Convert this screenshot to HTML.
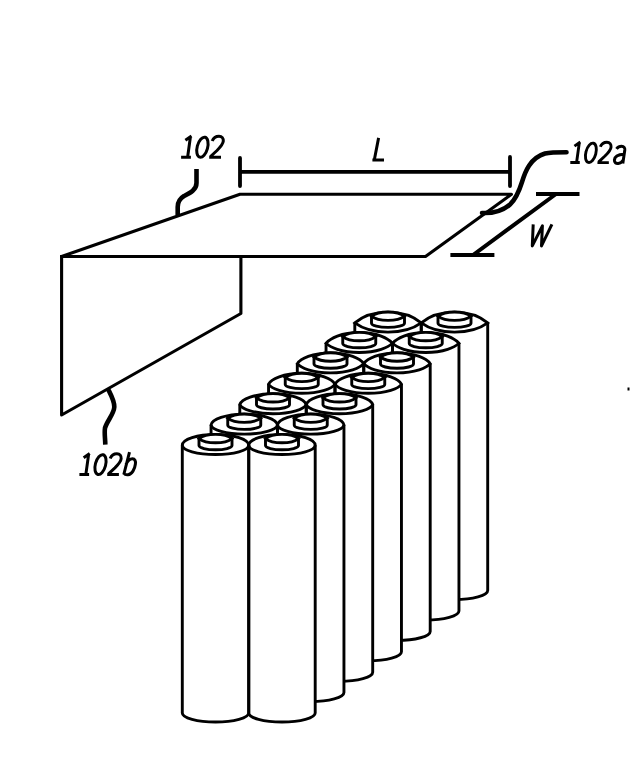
<!DOCTYPE html>
<html><head><meta charset="utf-8"><style>
html,body{margin:0;padding:0;background:#fff;width:632px;height:780px;overflow:hidden}
svg{display:block}
</style></head><body>
<svg width="632" height="780" viewBox="0 0 632 780">
<style>
.s{fill:none;stroke:#000;stroke-width:3.1;stroke-linejoin:round;stroke-linecap:square}
.c{fill:#fff;stroke:#000;stroke-width:2.9}
.f{fill:#fff;stroke:none}
.k{fill:none;stroke:#000;stroke-width:2.9}
.d{fill:none;stroke:#000;stroke-width:3.8;stroke-linecap:round}
.ld{fill:none;stroke:#000;stroke-width:4.6;stroke-linecap:butt}
.t{fill:none;stroke:#000;stroke-width:3;stroke-linecap:butt;stroke-linejoin:round}
</style>
<rect width="632" height="780" fill="#fff"/>
<!-- sheet 102 -->
<path class="s" d="M61.6,256.5 L240,194.3 L511.5,194.3 L425.5,256.5 Z"/>
<path class="s" d="M61.6,256.5 L61.6,415 L240.9,313.5 L240.9,256.5"/>
<!-- L dimension -->
<path class="d" d="M240,158 L240,186 M240,171.8 L510,171.8 M510,157 L510,186"/>
<!-- W dimension -->
<path class="d" style="stroke-linecap:butt;stroke-width:4" d="M536,194 L579.5,194 M556,194 L473,255 M450.4,255 L494.4,255"/>
<!-- leaders -->
<path class="ld" d="M196.5,169 L196.5,183 C196.5,190 190,193 184,196 C179,199 177.7,203 177.7,207 L177.7,215"/>
<path class="ld" style="stroke-linecap:round" d="M482,213 C492,213.5 503,210.5 510,204.5 C516.5,198.5 519.5,190 522,182 C525,172 530,158 545,153.5 C550,152.4 556,152.3 566.5,152.3"/>
<path class="ld" d="M108,389 C111,395 114.5,401 114.3,407 C114,414 107,421 105,428 C104.2,433 105.2,438 105.3,444.6"/>
<!-- labels -->
<g><path class="t" d="M185.4,140.2 L191.5,136 M190.5,136.3 L187.6,157.2 M181.1,157.2 L190.9,157.2 M212.2,141 C213.5,137.5 216.5,136.2 219,136.2 C222,136.2 223.5,138.5 223.3,141.2 C223,144.5 220.5,147 217,150.5 L210.5,156.5 M209.2,157.3 L221,157.3"/><ellipse class="t" cx="202.4" cy="147.2" rx="5.2" ry="10.3" transform="rotate(15 202.4 147.2)"/></g>
<g transform="translate(570.3,162.5) scale(0.966) translate(-181.1,-157.2)"><path class="t" d="M185.4,140.2 L191.5,136 M190.5,136.3 L187.6,157.2 M181.1,157.2 L190.9,157.2 M212.2,141 C213.5,137.5 216.5,136.2 219,136.2 C222,136.2 223.5,138.5 223.3,141.2 C223,144.5 220.5,147 217,150.5 L210.5,156.5 M209.2,157.3 L221,157.3"/><ellipse class="t" cx="202.4" cy="147.2" rx="5.2" ry="10.3" transform="rotate(15 202.4 147.2)"/></g>
<path class="t" d="M616.5,148.8 C618,146.8 620,146.3 621.6,146.3 C624,146.3 625,147.8 624.8,150 L622.8,163.5 M624,154.3 C619,154.5 614.8,156 614.4,160 C614.2,162.5 616,163.6 618.2,163.4 C620.5,163.2 622.3,161.5 623.2,160"/>
<g transform="translate(79.4,474.5) scale(0.99) translate(-181.1,-157.2)"><path class="t" d="M185.4,140.2 L191.5,136 M190.5,136.3 L187.6,157.2 M181.1,157.2 L190.9,157.2 M212.2,141 C213.5,137.5 216.5,136.2 219,136.2 C222,136.2 223.5,138.5 223.3,141.2 C223,144.5 220.5,147 217,150.5 L210.5,156.5 M209.2,157.3 L221,157.3"/><ellipse class="t" cx="202.4" cy="147.2" rx="5.2" ry="10.3" transform="rotate(15 202.4 147.2)"/></g>
<path class="t" d="M129.5,452.2 L123.8,474.5 M126,464.5 C127.5,461 130,458.8 132.5,458.8 C134.8,458.8 135.8,461 135.4,464 C134.8,469 132,474.5 128,474.8 C126,475 124.5,474.2 124,473.5"/>
<path class="t" d="M378.6,137.9 L374.3,160 M372.4,160 L384,160"/>
<path class="t" style="stroke-linejoin:round" d="M533.2,224.4 L532.3,245.9 L542.4,225.8 L541.5,245.9 L551.9,224.4"/>
<rect x="627.5" y="387.5" width="2" height="3" fill="#000"/>
<!-- batteries -->
<path d="M354.80,322.90 L354.80,590.60 A33.20,9.00 0 0 0 421.20,590.60 L421.20,322.90 Z" class="f"/>
<path d="M354.80,322.90 C359.80,318.58 369.74,312.10 388.00,312.10 C406.26,312.10 416.20,318.58 421.20,322.90 C416.20,326.58 406.26,332.10 388.00,332.10 C369.74,332.10 359.80,326.58 354.80,322.90 Z" class="f"/>
<path d="M421.30,322.90 L421.30,590.60 A33.20,9.00 0 0 0 487.70,590.60 L487.70,322.90 Z" class="f"/>
<path d="M421.30,322.90 C426.30,318.58 436.24,312.10 454.50,312.10 C472.76,312.10 482.70,318.58 487.70,322.90 C482.70,326.58 472.76,332.10 454.50,332.10 C436.24,332.10 426.30,326.58 421.30,322.90 Z" class="f"/>
<path d="M354.80,322.90 L354.80,590.60 A33.20,9.00 0 0 0 421.20,590.60 L421.20,322.90" class="k"/>
<path d="M354.80,322.90 C359.80,318.58 369.74,312.10 388.00,312.10 C406.26,312.10 416.20,318.58 421.20,322.90 C416.20,326.58 406.26,332.10 388.00,332.10 C369.74,332.10 359.80,326.58 354.80,322.90 Z" class="k"/>
<path d="M421.30,322.90 L421.30,590.60 A33.20,9.00 0 0 0 487.70,590.60 L487.70,322.90" class="k"/>
<path d="M421.30,322.90 C426.30,318.58 436.24,312.10 454.50,312.10 C472.76,312.10 482.70,318.58 487.70,322.90 C482.70,326.58 472.76,332.10 454.50,332.10 C436.24,332.10 426.30,326.58 421.30,322.90 Z" class="k"/>
<path d="M371.50,316.20 L371.50,323.20 A16.50,4.20 0 0 0 404.50,323.20 L404.50,316.20 Z" class="c"/>
<path d="M371.50,316.20 C374.00,314.20 378.93,312.00 388.00,312.00 C397.07,312.00 402.00,314.20 404.50,316.20 C402.00,318.20 397.07,320.40 388.00,320.40 C378.93,320.40 374.00,318.20 371.50,316.20 Z" class="c"/>
<path d="M438.00,316.20 L438.00,323.20 A16.50,4.20 0 0 0 471.00,323.20 L471.00,316.20 Z" class="c"/>
<path d="M438.00,316.20 C440.50,314.20 445.43,312.00 454.50,312.00 C463.57,312.00 468.50,314.20 471.00,316.20 C468.50,318.20 463.57,320.40 454.50,320.40 C445.43,320.40 440.50,318.20 438.00,316.20 Z" class="c"/>
<path d="M326.05,343.30 L326.05,611.00 A33.20,9.00 0 0 0 392.45,611.00 L392.45,343.30 Z" class="f"/>
<path d="M326.05,343.30 C330.22,338.71 340.99,332.50 359.25,332.50 C377.51,332.50 388.28,338.71 392.45,343.30 C388.28,347.21 377.51,352.50 359.25,352.50 C340.99,352.50 330.22,347.21 326.05,343.30 Z" class="f"/>
<path d="M392.55,343.30 L392.55,611.00 A33.20,9.00 0 0 0 458.95,611.00 L458.95,343.30 Z" class="f"/>
<path d="M392.55,343.30 C396.72,338.71 407.49,332.50 425.75,332.50 C444.01,332.50 454.78,338.71 458.95,343.30 C454.78,347.21 444.01,352.50 425.75,352.50 C407.49,352.50 396.72,347.21 392.55,343.30 Z" class="f"/>
<path d="M326.05,343.30 L326.05,611.00 A33.20,9.00 0 0 0 392.45,611.00 L392.45,343.30" class="k"/>
<path d="M326.05,343.30 C330.22,338.71 340.99,332.50 359.25,332.50 C377.51,332.50 388.28,338.71 392.45,343.30 C388.28,347.21 377.51,352.50 359.25,352.50 C340.99,352.50 330.22,347.21 326.05,343.30 Z" class="k"/>
<path d="M392.55,343.30 L392.55,611.00 A33.20,9.00 0 0 0 458.95,611.00 L458.95,343.30" class="k"/>
<path d="M392.55,343.30 C396.72,338.71 407.49,332.50 425.75,332.50 C444.01,332.50 454.78,338.71 458.95,343.30 C454.78,347.21 444.01,352.50 425.75,352.50 C407.49,352.50 396.72,347.21 392.55,343.30 Z" class="k"/>
<path d="M342.75,336.60 L342.75,343.60 A16.50,4.20 0 0 0 375.75,343.60 L375.75,336.60 Z" class="c"/>
<path d="M342.75,336.60 C345.25,334.60 350.18,332.40 359.25,332.40 C368.32,332.40 373.25,334.60 375.75,336.60 C373.25,338.60 368.32,340.80 359.25,340.80 C350.18,340.80 345.25,338.60 342.75,336.60 Z" class="c"/>
<path d="M409.25,336.60 L409.25,343.60 A16.50,4.20 0 0 0 442.25,343.60 L442.25,336.60 Z" class="c"/>
<path d="M409.25,336.60 C411.75,334.60 416.68,332.40 425.75,332.40 C434.82,332.40 439.75,334.60 442.25,336.60 C439.75,338.60 434.82,340.80 425.75,340.80 C416.68,340.80 411.75,338.60 409.25,336.60 Z" class="c"/>
<path d="M297.30,363.70 L297.30,631.40 A33.20,9.00 0 0 0 363.70,631.40 L363.70,363.70 Z" class="f"/>
<path d="M297.30,363.70 C300.63,358.83 312.24,352.90 330.50,352.90 C348.76,352.90 360.37,358.83 363.70,363.70 C360.37,367.85 348.76,372.90 330.50,372.90 C312.24,372.90 300.63,367.85 297.30,363.70 Z" class="f"/>
<path d="M363.80,363.70 L363.80,631.40 A33.20,9.00 0 0 0 430.20,631.40 L430.20,363.70 Z" class="f"/>
<path d="M363.80,363.70 C367.13,358.83 378.74,352.90 397.00,352.90 C415.26,352.90 426.87,358.83 430.20,363.70 C426.87,367.85 415.26,372.90 397.00,372.90 C378.74,372.90 367.13,367.85 363.80,363.70 Z" class="f"/>
<path d="M297.30,363.70 L297.30,631.40 A33.20,9.00 0 0 0 363.70,631.40 L363.70,363.70" class="k"/>
<path d="M297.30,363.70 C300.63,358.83 312.24,352.90 330.50,352.90 C348.76,352.90 360.37,358.83 363.70,363.70 C360.37,367.85 348.76,372.90 330.50,372.90 C312.24,372.90 300.63,367.85 297.30,363.70 Z" class="k"/>
<path d="M363.80,363.70 L363.80,631.40 A33.20,9.00 0 0 0 430.20,631.40 L430.20,363.70" class="k"/>
<path d="M363.80,363.70 C367.13,358.83 378.74,352.90 397.00,352.90 C415.26,352.90 426.87,358.83 430.20,363.70 C426.87,367.85 415.26,372.90 397.00,372.90 C378.74,372.90 367.13,367.85 363.80,363.70 Z" class="k"/>
<path d="M314.00,357.00 L314.00,364.00 A16.50,4.20 0 0 0 347.00,364.00 L347.00,357.00 Z" class="c"/>
<path d="M314.00,357.00 C316.50,355.00 321.43,352.80 330.50,352.80 C339.57,352.80 344.50,355.00 347.00,357.00 C344.50,359.00 339.57,361.20 330.50,361.20 C321.43,361.20 316.50,359.00 314.00,357.00 Z" class="c"/>
<path d="M380.50,357.00 L380.50,364.00 A16.50,4.20 0 0 0 413.50,364.00 L413.50,357.00 Z" class="c"/>
<path d="M380.50,357.00 C383.00,355.00 387.93,352.80 397.00,352.80 C406.07,352.80 411.00,355.00 413.50,357.00 C411.00,359.00 406.07,361.20 397.00,361.20 C387.93,361.20 383.00,359.00 380.50,357.00 Z" class="c"/>
<path d="M268.55,384.10 L268.55,651.80 A33.20,9.00 0 0 0 334.95,651.80 L334.95,384.10 Z" class="f"/>
<path d="M268.55,384.10 C271.05,378.96 283.49,373.30 301.75,373.30 C320.01,373.30 332.45,378.96 334.95,384.10 C332.45,388.48 320.01,393.30 301.75,393.30 C283.49,393.30 271.05,388.48 268.55,384.10 Z" class="f"/>
<path d="M335.05,384.10 L335.05,651.80 A33.20,9.00 0 0 0 401.45,651.80 L401.45,384.10 Z" class="f"/>
<path d="M335.05,384.10 C337.55,378.96 349.99,373.30 368.25,373.30 C386.51,373.30 398.95,378.96 401.45,384.10 C398.95,388.48 386.51,393.30 368.25,393.30 C349.99,393.30 337.55,388.48 335.05,384.10 Z" class="f"/>
<path d="M268.55,384.10 L268.55,651.80 A33.20,9.00 0 0 0 334.95,651.80 L334.95,384.10" class="k"/>
<path d="M268.55,384.10 C271.05,378.96 283.49,373.30 301.75,373.30 C320.01,373.30 332.45,378.96 334.95,384.10 C332.45,388.48 320.01,393.30 301.75,393.30 C283.49,393.30 271.05,388.48 268.55,384.10 Z" class="k"/>
<path d="M335.05,384.10 L335.05,651.80 A33.20,9.00 0 0 0 401.45,651.80 L401.45,384.10" class="k"/>
<path d="M335.05,384.10 C337.55,378.96 349.99,373.30 368.25,373.30 C386.51,373.30 398.95,378.96 401.45,384.10 C398.95,388.48 386.51,393.30 368.25,393.30 C349.99,393.30 337.55,388.48 335.05,384.10 Z" class="k"/>
<path d="M285.25,377.40 L285.25,384.40 A16.50,4.20 0 0 0 318.25,384.40 L318.25,377.40 Z" class="c"/>
<path d="M285.25,377.40 C287.75,375.40 292.68,373.20 301.75,373.20 C310.82,373.20 315.75,375.40 318.25,377.40 C315.75,379.40 310.82,381.60 301.75,381.60 C292.68,381.60 287.75,379.40 285.25,377.40 Z" class="c"/>
<path d="M351.75,377.40 L351.75,384.40 A16.50,4.20 0 0 0 384.75,384.40 L384.75,377.40 Z" class="c"/>
<path d="M351.75,377.40 C354.25,375.40 359.18,373.20 368.25,373.20 C377.32,373.20 382.25,375.40 384.75,377.40 C382.25,379.40 377.32,381.60 368.25,381.60 C359.18,381.60 354.25,379.40 351.75,377.40 Z" class="c"/>
<path d="M239.80,404.50 L239.80,672.20 A33.20,9.00 0 0 0 306.20,672.20 L306.20,404.50 Z" class="f"/>
<path d="M239.80,404.50 C241.47,399.08 254.74,393.70 273.00,393.70 C291.26,393.70 304.53,399.08 306.20,404.50 C304.53,409.11 291.26,413.70 273.00,413.70 C254.74,413.70 241.47,409.11 239.80,404.50 Z" class="f"/>
<path d="M306.30,404.50 L306.30,672.20 A33.20,9.00 0 0 0 372.70,672.20 L372.70,404.50 Z" class="f"/>
<path d="M306.30,404.50 C307.97,399.08 321.24,393.70 339.50,393.70 C357.76,393.70 371.03,399.08 372.70,404.50 C371.03,409.11 357.76,413.70 339.50,413.70 C321.24,413.70 307.97,409.11 306.30,404.50 Z" class="f"/>
<path d="M239.80,404.50 L239.80,672.20 A33.20,9.00 0 0 0 306.20,672.20 L306.20,404.50" class="k"/>
<path d="M239.80,404.50 C241.47,399.08 254.74,393.70 273.00,393.70 C291.26,393.70 304.53,399.08 306.20,404.50 C304.53,409.11 291.26,413.70 273.00,413.70 C254.74,413.70 241.47,409.11 239.80,404.50 Z" class="k"/>
<path d="M306.30,404.50 L306.30,672.20 A33.20,9.00 0 0 0 372.70,672.20 L372.70,404.50" class="k"/>
<path d="M306.30,404.50 C307.97,399.08 321.24,393.70 339.50,393.70 C357.76,393.70 371.03,399.08 372.70,404.50 C371.03,409.11 357.76,413.70 339.50,413.70 C321.24,413.70 307.97,409.11 306.30,404.50 Z" class="k"/>
<path d="M256.50,397.80 L256.50,404.80 A16.50,4.20 0 0 0 289.50,404.80 L289.50,397.80 Z" class="c"/>
<path d="M256.50,397.80 C259.00,395.80 263.93,393.60 273.00,393.60 C282.07,393.60 287.00,395.80 289.50,397.80 C287.00,399.80 282.07,402.00 273.00,402.00 C263.93,402.00 259.00,399.80 256.50,397.80 Z" class="c"/>
<path d="M323.00,397.80 L323.00,404.80 A16.50,4.20 0 0 0 356.00,404.80 L356.00,397.80 Z" class="c"/>
<path d="M323.00,397.80 C325.50,395.80 330.43,393.60 339.50,393.60 C348.57,393.60 353.50,395.80 356.00,397.80 C353.50,399.80 348.57,402.00 339.50,402.00 C330.43,402.00 325.50,399.80 323.00,397.80 Z" class="c"/>
<path d="M211.05,424.90 L211.05,692.60 A33.20,9.00 0 0 0 277.45,692.60 L277.45,424.90 Z" class="f"/>
<path d="M211.05,424.90 C211.88,419.21 225.99,414.10 244.25,414.10 C262.51,414.10 276.62,419.21 277.45,424.90 C276.62,429.75 262.51,434.10 244.25,434.10 C225.99,434.10 211.88,429.75 211.05,424.90 Z" class="f"/>
<path d="M277.55,424.90 L277.55,692.60 A33.20,9.00 0 0 0 343.95,692.60 L343.95,424.90 Z" class="f"/>
<path d="M277.55,424.90 C278.38,419.21 292.49,414.10 310.75,414.10 C329.01,414.10 343.12,419.21 343.95,424.90 C343.12,429.75 329.01,434.10 310.75,434.10 C292.49,434.10 278.38,429.75 277.55,424.90 Z" class="f"/>
<path d="M211.05,424.90 L211.05,692.60 A33.20,9.00 0 0 0 277.45,692.60 L277.45,424.90" class="k"/>
<path d="M211.05,424.90 C211.88,419.21 225.99,414.10 244.25,414.10 C262.51,414.10 276.62,419.21 277.45,424.90 C276.62,429.75 262.51,434.10 244.25,434.10 C225.99,434.10 211.88,429.75 211.05,424.90 Z" class="k"/>
<path d="M277.55,424.90 L277.55,692.60 A33.20,9.00 0 0 0 343.95,692.60 L343.95,424.90" class="k"/>
<path d="M277.55,424.90 C278.38,419.21 292.49,414.10 310.75,414.10 C329.01,414.10 343.12,419.21 343.95,424.90 C343.12,429.75 329.01,434.10 310.75,434.10 C292.49,434.10 278.38,429.75 277.55,424.90 Z" class="k"/>
<path d="M227.75,418.20 L227.75,425.20 A16.50,4.20 0 0 0 260.75,425.20 L260.75,418.20 Z" class="c"/>
<path d="M227.75,418.20 C230.25,416.20 235.18,414.00 244.25,414.00 C253.32,414.00 258.25,416.20 260.75,418.20 C258.25,420.20 253.32,422.40 244.25,422.40 C235.18,422.40 230.25,420.20 227.75,418.20 Z" class="c"/>
<path d="M294.25,418.20 L294.25,425.20 A16.50,4.20 0 0 0 327.25,425.20 L327.25,418.20 Z" class="c"/>
<path d="M294.25,418.20 C296.75,416.20 301.68,414.00 310.75,414.00 C319.82,414.00 324.75,416.20 327.25,418.20 C324.75,420.20 319.82,422.40 310.75,422.40 C301.68,422.40 296.75,420.20 294.25,418.20 Z" class="c"/>
<path d="M182.30,445.30 L182.30,713.00 A33.20,9.00 0 0 0 248.70,713.00 L248.70,445.30 Z" class="f"/>
<path d="M182.30,445.30 C182.30,439.34 197.24,434.50 215.50,434.50 C233.76,434.50 248.70,439.34 248.70,445.30 C248.70,450.38 233.76,454.50 215.50,454.50 C197.24,454.50 182.30,450.38 182.30,445.30 Z" class="f"/>
<path d="M248.80,445.30 L248.80,713.00 A33.20,9.00 0 0 0 315.20,713.00 L315.20,445.30 Z" class="f"/>
<path d="M248.80,445.30 C248.80,439.34 263.74,434.50 282.00,434.50 C300.26,434.50 315.20,439.34 315.20,445.30 C315.20,450.38 300.26,454.50 282.00,454.50 C263.74,454.50 248.80,450.38 248.80,445.30 Z" class="f"/>
<path d="M182.30,445.30 L182.30,713.00 A33.20,9.00 0 0 0 248.70,713.00 L248.70,445.30" class="k"/>
<path d="M182.30,445.30 C182.30,439.34 197.24,434.50 215.50,434.50 C233.76,434.50 248.70,439.34 248.70,445.30 C248.70,450.38 233.76,454.50 215.50,454.50 C197.24,454.50 182.30,450.38 182.30,445.30 Z" class="k"/>
<path d="M248.80,445.30 L248.80,713.00 A33.20,9.00 0 0 0 315.20,713.00 L315.20,445.30" class="k"/>
<path d="M248.80,445.30 C248.80,439.34 263.74,434.50 282.00,434.50 C300.26,434.50 315.20,439.34 315.20,445.30 C315.20,450.38 300.26,454.50 282.00,454.50 C263.74,454.50 248.80,450.38 248.80,445.30 Z" class="k"/>
<path d="M199.00,438.60 L199.00,445.60 A16.50,4.20 0 0 0 232.00,445.60 L232.00,438.60 Z" class="c"/>
<path d="M199.00,438.60 C201.50,436.60 206.43,434.40 215.50,434.40 C224.57,434.40 229.50,436.60 232.00,438.60 C229.50,440.60 224.57,442.80 215.50,442.80 C206.43,442.80 201.50,440.60 199.00,438.60 Z" class="c"/>
<path d="M265.50,438.60 L265.50,445.60 A16.50,4.20 0 0 0 298.50,445.60 L298.50,438.60 Z" class="c"/>
<path d="M265.50,438.60 C268.00,436.60 272.93,434.40 282.00,434.40 C291.07,434.40 296.00,436.60 298.50,438.60 C296.00,440.60 291.07,442.80 282.00,442.80 C272.93,442.80 268.00,440.60 265.50,438.60 Z" class="c"/>
</svg>
</body></html>
